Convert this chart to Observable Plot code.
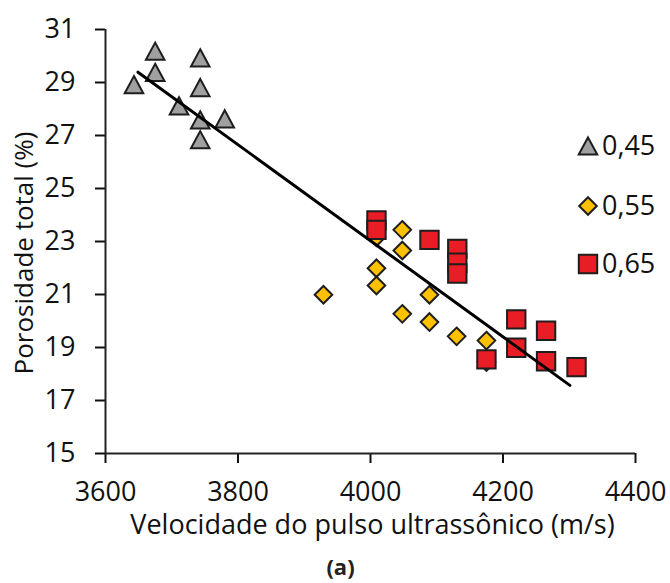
<!DOCTYPE html>
<html><head><meta charset="utf-8">
<script src="https://cdn.jsdelivr.net/npm/d3@7"></script>
<script src="https://cdn.jsdelivr.net/npm/@observablehq/plot@0.6"></script>
<style>body{margin:0;background:#fff}</style>
</head><body><div id="chart"></div>
<script>
// ---- data ----
const xTicks = [3600, 3800, 4000, 4200, 4400];
const yTicks = [15, 17, 19, 21, 23, 25, 27, 29, 31];
const seriesNames = ["0,45", "0,55", "0,65"];

const vel045 = [3643, 3675, 3675, 3711, 3743, 3743, 3743, 3743, 3780];
const por045 = [28.92, 30.18, 29.38, 28.12, 29.93, 28.81, 27.59, 26.84, 27.63];

const vel055 = [3929, 4009, 4009, 4009, 4048, 4048, 4048, 4089, 4089, 4130, 4175, 4175];
const por055 = [20.99, 23.16, 21.99, 21.34, 23.44, 22.66, 20.27, 20.99, 19.96, 19.42, 19.26, 18.45];

const vel065 = [4009, 4009, 4089, 4131, 4131, 4131, 4175, 4220, 4220, 4265, 4265, 4311];
const por065 = [23.79, 23.44, 23.06, 22.72, 22.20, 21.79, 18.55, 20.06, 18.99, 19.63, 18.48, 18.26];

const trendVel = [3649, 4301];
const trendPor = [29.39, 17.57];

const xLabel = "Velocidade do pulso ultrassônico (m/s)";
const yLabel = "Porosidade total (%)";
const panelLabel = "(a)";

// ---- tables ----
const toRows = (xs, ys) => xs.map((x, i) => ({x, y: ys[i]}));
const d045 = toRows(vel045, por045);
const d055 = toRows(vel055, por055);
const d065 = toRows(vel065, por065);
const trend = toRows(trendVel, trendPor);

// ---- symbols (bbox-centred, Excel-like) ----
const tri = {draw(c, size) { const r = Math.sqrt(size / Math.PI); c.moveTo(0, -r); c.lineTo(r * 1.08, r); c.lineTo(-r * 1.08, r); c.closePath(); }};
const dia = {draw(c, size) { const r = Math.sqrt(size / Math.PI); c.moveTo(0, -r); c.lineTo(r, 0); c.lineTo(0, r); c.lineTo(-r, 0); c.closePath(); }};
const sq  = {draw(c, size) { const r = Math.sqrt(size / Math.PI); c.moveTo(-r, -r); c.lineTo(r, -r); c.lineTo(r, r); c.lineTo(-r, r); c.closePath(); }};

const styles = [
  {symbol: tri, r: 8.6, fill: "#a0a0a0"},
  {symbol: dia, r: 8.8, fill: "#ffc000"},
  {symbol: sq,  r: 9.2, fill: "#e81d25"}
];
const edge = "#1e1e1e";
const fmt = d => String(d);
const FS = 27;

const chart = Plot.plot({
  width: 670, height: 583,
  marginLeft: 105, marginRight: 35, marginTop: 29, marginBottom: 130,
  style: {fontFamily: "'Open Sans', sans-serif", fontSize: FS + "px", color: "#111", background: "#fff"},
  x: {domain: [3600, 4400]},
  y: {domain: [15, 31]},
  marks: [
    Plot.axisX(xTicks, {tickSize: 10, tickPadding: 18, tickFormat: fmt, strokeWidth: 2, label: null}),
    Plot.axisY(yTicks, {tickSize: 10, tickPadding: 20, tickFormat: fmt, strokeWidth: 2, label: null}),
    Plot.ruleX([3600], {strokeWidth: 2, stroke: "#222"}),
    Plot.ruleY([15], {strokeWidth: 2, stroke: "#222"}),
    Plot.dot(d045, {x: "x", y: "y", symbol: styles[0].symbol, r: styles[0].r, fill: styles[0].fill, stroke: edge, strokeWidth: 2}),
    Plot.dot(d055, {x: "x", y: "y", symbol: styles[1].symbol, r: styles[1].r, fill: styles[1].fill, stroke: edge, strokeWidth: 2}),
    Plot.dot(d065, {x: "x", y: "y", symbol: styles[2].symbol, r: styles[2].r, fill: styles[2].fill, stroke: edge, strokeWidth: 2}),
    Plot.line(trend, {x: "x", y: "y", stroke: "#000", strokeWidth: 3}),
    Plot.text([xLabel], {frameAnchor: "bottom", text: d => d, dy: 72, dx: 2, lineAnchor: "middle", textAnchor: "middle", fill: "#111"}),
    Plot.text([panelLabel], {frameAnchor: "bottom", text: d => d, dy: 114, dx: -30, lineAnchor: "middle", textAnchor: "middle", fontSize: 22, fontWeight: "bold", fill: "#222"})
  ]
});

const svg = d3.select(chart);

// ---- y-axis title ----
svg.append("text")
  .attr("transform", "translate(24,253) rotate(-90)")
  .attr("text-anchor", "middle").attr("dy", "0.35em")
  .attr("font-family", "'Open Sans', sans-serif").attr("font-size", 26).attr("fill", "#111")
  .text(yLabel);

// ---- legend ----
const lg = svg.append("g").attr("font-family", "'Open Sans', sans-serif").attr("font-size", FS).attr("fill", "#111").attr("text-anchor", "start");
const legendY = [146, 206, 264];
seriesNames.forEach((name, i) => {
  const s = styles[i];
  lg.append("path")
    .attr("d", d3.symbol(s.symbol, Math.PI * s.r * s.r)())
    .attr("transform", `translate(588,${legendY[i]})`)
    .attr("fill", s.fill).attr("stroke", edge).attr("stroke-width", 2);
  lg.append("text").attr("x", 602).attr("y", legendY[i]).attr("dy", "0.35em").attr("text-anchor", "start").text(name);
});

document.getElementById("chart").append(chart);
</script>
</body></html>
